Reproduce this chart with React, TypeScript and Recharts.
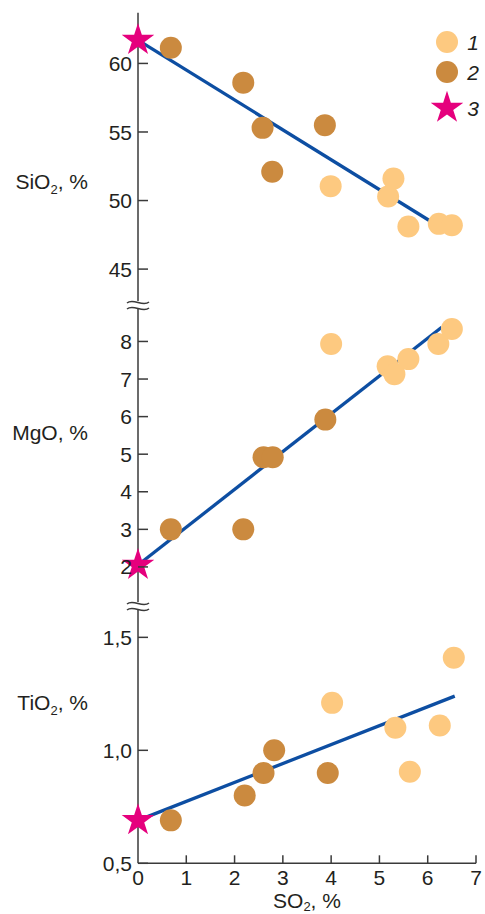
import { ComposedChart, Scatter, Line, XAxis, YAxis, Legend, Symbols } from "recharts";

const SO2_TICKS = [0, 1, 2, 3, 4, 5, 6, 7];
const SIO2_TICKS = [45, 50, 55, 60];
const MGO_TICKS = [2, 3, 4, 5, 6, 7, 8];
const TIO2_TICKS = [0.5, 1.0, 1.5];

// SiO2 panel
const sio2Light_x = [3.99, 5.18, 5.29, 5.6, 6.23, 6.5];
const sio2Light_y = [51.05, 50.3, 51.6, 48.1, 48.3, 48.2];
const sio2Brown_x = [0.68, 2.18, 2.58, 2.78, 3.87];
const sio2Brown_y = [61.15, 58.6, 55.3, 52.1, 55.5];
const sio2Star_x = [0];
const sio2Star_y = [61.7];
const sio2Trend_x = [0, 6.1];
const sio2Trend_y = [61.7, 48.4];

// MgO panel
const mgoLight_x = [4.0, 5.17, 5.31, 5.6, 6.22, 6.5];
const mgoLight_y = [7.93, 7.34, 7.13, 7.53, 7.93, 8.33];
const mgoBrown_x = [0.68, 2.18, 2.6, 2.79, 3.88];
const mgoBrown_y = [3.0, 3.0, 4.92, 4.92, 5.92];
const mgoStar_x = [0];
const mgoStar_y = [2.05];
const mgoTrend_x = [0, 6.29];
const mgoTrend_y = [2.05, 8.38];

// TiO2 panel
const tio2Light_x = [4.02, 5.33, 5.63, 6.25, 6.54];
const tio2Light_y = [1.21, 1.1, 0.905, 1.11, 1.41];
const tio2Brown_x = [0.68, 2.21, 2.6, 2.82, 3.93];
const tio2Brown_y = [0.69, 0.8, 0.9, 1.0, 0.9];
const tio2Star_x = [0];
const tio2Star_y = [0.69];
const tio2Trend_x = [0, 6.56];
const tio2Trend_y = [0.69, 1.24];

const LEGEND_NAMES = ["1", "2", "3"];

const LIGHT = "#fdc980";
const BROWN = "#cb8a3f";
const PINK = "#e5007d";
const BLUE = "#0d4ea2";
const AXIS = "#3a3a3a";
const TEXT = "#231f20";
const FONT = "'Liberation Sans', Arial, sans-serif";

const zip = (xs: number[], ys: number[]) => xs.map((x, i) => ({ x, y: ys[i] }));

const Dot = (color: string) => (p: any) => <circle cx={p.cx} cy={p.cy} r={11} fill={color} />;
const Star = (p: any) => <Symbols type="star" size={330} cx={p.cx} cy={p.cy} fill={PINK} />;

const YTick = (fmt: (v: number) => string) => (props: any) => {
    const { x, y, payload } = props;
    return (
        <g>
            <line x1={x + 6} x2={x + 16} y1={y} y2={y} stroke={AXIS} strokeWidth={1.5} />
            <text x={x} y={y} dy="0.36em" textAnchor="end" fontSize={21} fill={TEXT} fontFamily={FONT}>
                {fmt(payload.value)}
            </text>
        </g>
    );
};

const XTick = (props: any) => {
    const { x, y, payload, index } = props;
    return (
        <g>
            {index > 0 && <line x1={x} x2={x} y1={y - 7} y2={y - 15} stroke={AXIS} strokeWidth={1.5} />}
            <text x={x} y={y} dy="0.72em" textAnchor="middle" fontSize={21} fill={TEXT} fontFamily={FONT}>
                {payload.value}
            </text>
        </g>
    );
};

const yTitle = (main: string, sub: string, rest: string, offsetY: number, showBreak: boolean) => (props: any) => {
    const vb = props.viewBox || { x: 0, y: 0, width: 138, height: 0 };
    const axisX = vb.x + vb.width;
    const by = vb.y;
    return (
        <g>
            <text x={axisX - 50} y={vb.y + offsetY} dy="0.36em" textAnchor="end" fontSize={21} fill={TEXT} fontFamily={FONT}>
                {main}
                {sub && <tspan dy={5} fontSize={13}>{sub}</tspan>}
                <tspan dy={sub ? -5 : 0}>{rest}</tspan>
            </text>
            {showBreak && (
                <g>
                    <rect x={axisX - 3} y={by - 1} width={6} height={7} fill="#fff" />
                    <path d={`M${axisX - 11} ${by + 1} C${axisX - 5} ${by - 4} ${axisX + 5} ${by + 5} ${axisX + 11} ${by}`}
                          stroke={AXIS} strokeWidth={1.5} fill="none" />
                    <path d={`M${axisX - 11} ${by + 7} C${axisX - 5} ${by + 2} ${axisX + 5} ${by + 11} ${axisX + 11} ${by + 6}`}
                          stroke={AXIS} strokeWidth={1.5} fill="none" />
                </g>
            )}
        </g>
    );
};

const xTitle = (props: any) => {
    const vb = props.viewBox || { x: 138, y: 863, width: 338, height: 50 };
    return (
        <text x={vb.x + vb.width / 2} y={vb.y + 44.5} textAnchor="middle" fontSize={21} fill={TEXT} fontFamily={FONT}>
            SO<tspan dy={3} fontSize={13}>2</tspan><tspan dy={-3}>, %</tspan>
        </text>
    );
};

const renderLegend = () => (
    <svg width={57} height={100}>
        {LEGEND_NAMES.map((name, i) => {
            const cy = [17, 47, 83][i];
            return (
                <g key={name}>
                    {i === 2
                        ? <Symbols type="star" size={330} cx={19} cy={cy} fill={PINK} />
                        : <circle cx={19} cy={cy} r={11} fill={i === 0 ? LIGHT : BROWN} />}
                    <text x={45} y={cy} dy="0.36em" textAnchor="middle" fontSize={21} fontStyle="italic"
                          fill={TEXT} fontFamily={FONT}>{name}</text>
                </g>
            );
        })}
    </svg>
);

type PanelProps = {
    top: number; height: number; marginTop: number; xHeight: number;
    domain: [number, number]; ticks: number[]; fmt: (v: number) => string;
    title: [string, string, string]; titleY: number; showBreak: boolean;
    showX: boolean; showLegend: boolean;
    light: { x: number; y: number }[]; brown: { x: number; y: number }[];
    star: { x: number; y: number }[]; trend: { x: number; y: number }[];
};

const Panel = (p: PanelProps) => (
    <div style={{ position: "absolute", left: 0, top: p.top }}>
        <ComposedChart width={485} height={p.height}
                       margin={{ top: p.marginTop, right: 9, bottom: 0, left: 0 }}>
            <XAxis type="number" dataKey="x" domain={[0, 7]} ticks={SO2_TICKS} hide={!p.showX}
                   height={p.xHeight}
                   axisLine={{ stroke: AXIS, strokeWidth: 1.5 }} tickLine={false} tickSize={0} tickMargin={7}
                   tick={XTick} label={{ content: xTitle }} />
            <YAxis type="number" dataKey="y" domain={p.domain} ticks={p.ticks} width={138}
                   axisLine={{ stroke: AXIS, strokeWidth: 1.5 }} tickLine={false} tickSize={0} tickMargin={6}
                   tick={YTick(p.fmt)}
                   label={{ content: yTitle(p.title[0], p.title[1], p.title[2], p.titleY, p.showBreak) }} />
            <Line data={p.trend} dataKey="y" type="linear" stroke={BLUE} strokeWidth={3.3} dot={false}
                  legendType="none" isAnimationActive={false} />
            <Scatter name="1" data={p.light} dataKey="y" shape={Dot(LIGHT)} isAnimationActive={false} />
            <Scatter name="2" data={p.brown} dataKey="y" shape={Dot(BROWN)} isAnimationActive={false} />
            <Scatter name="3" data={p.star} dataKey="y" shape={Star} isAnimationActive={false} />
            {p.showLegend && (
                <Legend layout="vertical" align="center" verticalAlign="middle" content={renderLegend}
                        wrapperStyle={{ position: "absolute", top: 25, left: 428, width: 57, height: 100 }} />
            )}
        </ComposedChart>
    </div>
);

export default function App() {
    return (
        <div style={{ position: "absolute", left: 0, top: 0, width: 485, height: 914, background: "#fff", fontFamily: FONT }}>
            <Panel top={0} height={302} marginTop={12.7} xHeight={0} domain={[42.6, 63.7]} ticks={SIO2_TICKS}
                   fmt={(v) => String(v)} title={["SiO", "2", ", %"]} titleY={169} showBreak={false}
                   showX={false} showLegend
                   light={zip(sio2Light_x, sio2Light_y)} brown={zip(sio2Brown_x, sio2Brown_y)}
                   star={zip(sio2Star_x, sio2Star_y)} trend={zip(sio2Trend_x, sio2Trend_y)} />
            <Panel top={290} height={313} marginTop={12} xHeight={0} domain={[1.04, 9.05]} ticks={MGO_TICKS}
                   fmt={(v) => String(v)} title={["MgO, %", "", ""]} titleY={130} showBreak
                   showX={false} showLegend={false}
                   light={zip(mgoLight_x, mgoLight_y)} brown={zip(mgoBrown_x, mgoBrown_y)}
                   star={zip(mgoStar_x, mgoStar_y)} trend={zip(mgoTrend_x, mgoTrend_y)} />
            <Panel top={590} height={324} marginTop={13} xHeight={50.7} domain={[0.5, 1.652]} ticks={TIO2_TICKS}
                   fmt={(v) => v.toFixed(1).replace(".", ",")} title={["TiO", "2", ", %"]} titleY={99} showBreak
                   showX showLegend={false}
                   light={zip(tio2Light_x, tio2Light_y)} brown={zip(tio2Brown_x, tio2Brown_y)}
                   star={zip(tio2Star_x, tio2Star_y)} trend={zip(tio2Trend_x, tio2Trend_y)} />
        </div>
    );
}
